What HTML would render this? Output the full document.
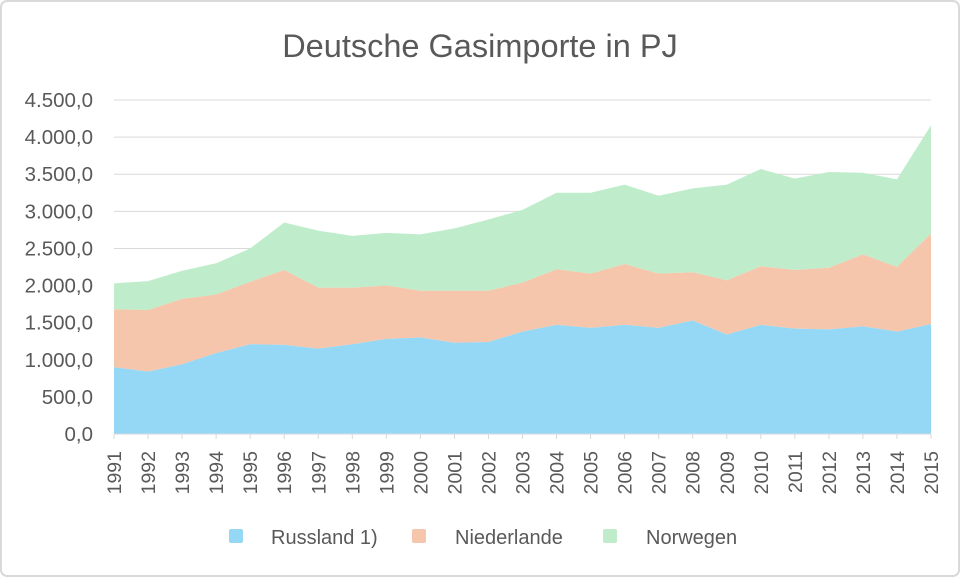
<!DOCTYPE html>
<html><head><meta charset="utf-8"><style>
html,body{margin:0;padding:0;background:#fff;}
svg{display:block;font-family:"Liberation Sans",sans-serif;}
</style></head><body>
<svg id="c" width="960" height="577" xmlns="http://www.w3.org/2000/svg">
<rect x="1" y="1" width="958" height="575" rx="6" fill="#fff" stroke="#d9d9d9" stroke-width="2"/>
<text x="480" y="57" text-anchor="middle" font-size="32.5" fill="#595959">Deutsche Gasimporte in PJ</text>
<g id="grid"></g>
<g id="areas"></g>
<g id="ax"></g>
<rect x="229" y="529" width="14" height="14" rx="2" fill="#95d8f6"/>
<text x="271" y="544" font-size="20" fill="#595959">Russland 1)</text>
<rect x="412" y="529" width="14" height="14" rx="2" fill="#f5c6ab"/>
<text x="455" y="544" font-size="20" fill="#595959">Niederlande</text>
<rect x="603" y="529" width="14" height="14" rx="2" fill="#bfedcb"/>
<text x="646" y="544" font-size="20" fill="#595959">Norwegen</text>
</svg>
<script>
var R=[900,840,940,1090,1210,1200,1150,1210,1280,1300,1230,1240,1380,1470,1430,1470,1430,1530,1340,1470,1420,1410,1450,1380,1480];
var N=[1680,1670,1820,1880,2050,2210,1970,1970,2000,1930,1930,1930,2040,2220,2160,2290,2160,2180,2070,2260,2210,2240,2420,2250,2700];
var T=[2030,2060,2200,2300,2500,2850,2740,2670,2710,2690,2770,2890,3020,3250,3250,3360,3210,3310,3360,3570,3440,3530,3520,3430,4160];
var x0=114,x1=931,y0=434,s=334/4500,dx=(x1-x0)/24;
function X(i){return x0+i*dx}function Y(v){return y0-v*s}
var g='';
for(var k=1;k<=9;k++){var y=Y(k*500);g+='<line x1="'+x0+'" x2="'+x1+'" y1="'+y+'" y2="'+y+'" stroke="#d9d9d9" stroke-width="1"/>';}
var lbl=['0,0','500,0','1.000,0','1.500,0','2.000,0','2.500,0','3.000,0','3.500,0','4.000,0','4.500,0'];
for(var k=0;k<=9;k++){g+='<text x="93" y="'+(Y(k*500)+7)+'" text-anchor="end" font-size="20.5" fill="#595959">'+lbl[k]+'</text>';}
document.getElementById('grid').innerHTML=g;
function area(top,bot,c){var p='';for(var i=0;i<25;i++)p+=X(i)+','+Y(top[i])+' ';for(var i=24;i>=0;i--)p+=X(i)+','+Y(bot?bot[i]:0)+' ';return '<polygon points="'+p+'" fill="'+c+'"/>';}
document.getElementById('areas').innerHTML=area(T,N,'#bfedcb')+area(N,R,'#f5c6ab')+area(R,null,'#95d8f6');
var a='<line x1="'+x0+'" x2="'+x1+'" y1="'+y0+'" y2="'+y0+'" stroke="#d9d9d9" stroke-width="1"/>';
for(var i=0;i<25;i++){var x=X(i);a+='<line x1="'+x+'" x2="'+x+'" y1="'+y0+'" y2="'+(y0+5)+'" stroke="#d9d9d9"/>';
a+='<text transform="translate('+(x+7)+',451) rotate(-90)" text-anchor="end" font-size="19.5" fill="#595959">'+(1991+i)+'</text>';}
document.getElementById('ax').innerHTML=a;
</script>
</body></html>
